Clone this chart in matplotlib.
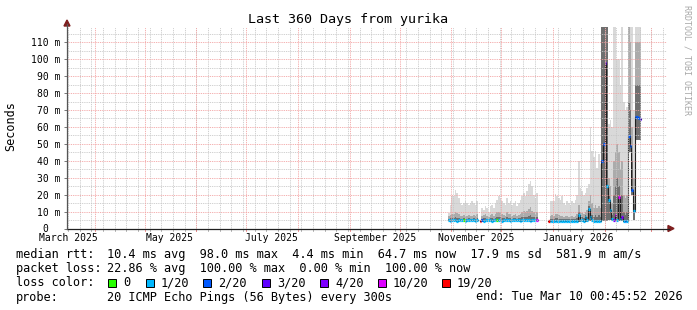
import numpy as np
import pandas as pd
import matplotlib
matplotlib.use("Agg")
import matplotlib.pyplot as plt
import matplotlib.dates as mdates
from matplotlib.patches import Polygon, Rectangle
from matplotlib.lines import Line2D
from datetime import datetime

nan = np.nan
W, H = 697, 310
plt.rcParams['font.family'] = ['DejaVu Sans Mono']

# ---- data (one value per day, starting 2025-10-30) ----
first_day = "2025-10-30"

median_ms = [
    4.8, 4.7, 4.8, 4.9, 4.8, 4.7, 4.8, 4.8, 4.9, 4.8, 4.7, 4.8, 4.8, 4.9, 4.8, 4.8, 4.7, 4.9,
    nan, 4.5,
    4.8, 4.7, 4.8, 4.8, 4.9, 4.8, 4.7, 4.8, 4.8, 4.9, 4.8, 4.8, 4.7, 4.8, 4.9, 4.8, 4.8,
    4.7, 4.8, 4.8, 4.9, 4.8, 4.8, 4.7, 4.8, 4.8, 4.9, 4.8, 4.8, 4.7, 4.8, 4.8, 4.9, 4.8,
    nan, nan, nan, nan, nan, nan, 4.4,
    4.6, 4.6, 4.7, 4.6, 4.6, 4.7, 4.6, 4.6, 4.6, 4.7, 4.6, 4.6, 4.6, 4.7, 4.6, 4.6, 4.7,
    8.0, 5.3, 4.8, 4.7, 6.7, 4.8, 11.7, 6.7, 4.8, 4.5, 4.7, 4.7, 4.6, 4.7,
    40, 50, 98, 25, 17, 11, 5.5, 5.2, 7.7, 4.8, 18.5, 5.5, 6.5, 4.5, 4.3, 4.5,
    54.6, 48.5, 23, 10.6, 66, 66, 65, 64.7,
]

loss_20 = [
    1, 1, 1, 1, 1, 1, 1, 1, 1, 0, 1, 1, 1, 1, 1, 1, 1, 1,
    nan, 19,
    2, 1, 1, 1, 1, 1, 1, 1, 1, 0, 1, 1, 1, 1, 1, 1, 1,
    1, 1, 1, 1, 1, 1, 1, 1, 1, 1, 1, 1, 1, 1, 1, 1, 10,
    nan, nan, nan, nan, nan, nan, 19,
    1, 1, 1, 1, 1, 1, 1, 1, 1, 1, 1, 1, 1, 1, 1, 1, 1,
    1, 1, 1, 1, 1, 1, 1, 1, 1, 1, 1, 1, 1, 1,
    2, 2, 3, 1, 1, 1, 1, 4, 10, 1, 10, 1, 4, 1, 2, 1,
    2, 2, 2, 1, 2, 2, 2, 3,
]

ping_min = [
    4.2, 4.2, 4.2, 4.2, 4.2, 4.2, 4.2, 4.2, 4.2, 4.2, 4.2, 4.2, 4.2, 4.2, 4.2, 4.2, 4.2, 4.2,
    nan, nan,
    4.2, 4.2, 4.2, 4.2, 4.2, 4.2, 4.2, 4.2, 4.2, 4.2, 4.2, 4.2, 4.2, 4.2, 4.2, 4.2, 4.2,
    4.2, 4.2, 4.2, 4.2, 4.2, 4.2, 4.2, 4.2, 4.2, 4.2, 4.2, 4.2, 4.2, 4.2, 4.2, 4.2, 4.2,
    nan, nan, nan, nan, nan, nan, nan,
    4.1, 4.1, 4.1, 4.1, 4.1, 4.1, 4.1, 4.1, 4.1, 4.1, 4.1, 4.1, 4.1, 4.1, 4.1, 4.1, 4.1,
    4.1, 4.1, 4.1, 4.1, 4.1, 4.1, 4.2, 4.2, 4.2, 4.2, 4.2, 4.2, 4.2, 4.2,
    4.5, 4.5, 4.5, 4.5, 5, 5, 4.5, 4.5, 4.5, 4.5, 4.5, 4.5, 4.5, 4.2, 4.2, 4.2,
    45, 45, 20, 5, 52, 52, 52, 52,
]

# top of the darkest part of the smoke (pings closest to the median)
smoke_core = [
    5.8, 6, 6.2, 6.2, 6.5, 6.3, 6.2, 5.8, 5.8, 6, 5.8, 5.8, 6, 5.8, 5.8, 6, 5.8, 6.2,
    nan, nan,
    5.8, 6, 6.2, 5.8, 5.6, 6, 6.2, 5.8, 6.2, 6.5, 6.8, 6.5, 6.2, 6, 5.8, 6.5, 6.2,
    6.2, 5.8, 6, 6.2, 5.8, 6, 6.2, 6.5, 7, 6.5, 7, 7.5, 8, 7, 6.5, 6.2, 6.5,
    nan, nan, nan, nan, nan, nan, nan,
    5.6, 5.8, 5.6, 6, 6, 5.8, 5.6, 5.6, 5.5, 5.6, 5.6, 5.5, 5.6, 5.6, 5.5, 5.6, 6,
    10, 7, 6.5, 6, 8, 7, 13, 10, 8, 6.5, 8, 7, 8, 7,
    125, 125, 125, 125, 20, 15, 8, 20, 25, 30, 25, 15, 20, 10, 8, 10,
    75, 70, 40, 15, 85, 85, 85, 85,
]

# top of the dense (middle) part of the smoke
smoke_mid = [
    7.5, 8, 8.5, 8.5, 9.5, 9, 8.5, 7.5, 7.5, 8, 7.5, 7.5, 8, 7.5, 7.5, 8, 7.5, 8.5,
    nan, nan,
    7.5, 8, 8.5, 7.5, 7, 8, 8.5, 7.5, 8.5, 9.5, 10, 9.5, 8.5, 8, 7.5, 9.5, 8.5,
    8.5, 7.5, 8, 8.5, 7.5, 8, 8.5, 9.5, 10.5, 9.5, 10.5, 11.5, 12.5, 10.5, 9.5, 8.5, 9.5,
    nan, nan, nan, nan, nan, nan, nan,
    7.5, 8, 7.5, 8.5, 8.5, 8, 7.5, 7.5, 7, 7.5, 7.5, 7, 7.5, 7.5, 7, 7.5, 8.5,
    14, 10, 9, 8.5, 10, 11, 16, 20, 15, 12, 14, 12, 13, 12,
    125, 125, 125, 125, 30, 25, 15, 40, 45, 50, 45, 35, 40, 20, 18, 20,
    125, 110, 60, 30, 110, 110, 110, 110,
]

smoke_max = [
    9, 14, 19, 19, 23, 21, 18, 15, 14, 15, 16, 15, 14, 15, 16, 15, 14, 16,
    nan, nan,
    12, 11, 13, 12, 10, 13, 14, 12, 15, 17, 19, 18, 16, 15, 14, 18, 15,
    16, 14, 15, 16, 13, 15, 17, 19, 21, 19, 22, 26, 28, 25, 20, 18, 21,
    nan, nan, nan, nan, nan, nan, nan,
    16.5, 16.5, 16.5, 20.5, 19, 18, 17, 19, 15, 14, 16, 15, 14, 16, 15, 17, 20,
    40, 24, 22, 20, 21, 24, 26, 60, 46, 42, 46, 36, 44, 38,
    125, 125, 125, 125, 62, 64, 60, 125, 125, 100, 100, 85, 125, 75, 70, 72,
    125, 125, 125, 70, 125, 125, 125, 125,
]

loss_colors = {0: '#26ff00', 1: '#00b8ff', 2: '#0059ff', 3: '#5e00ff',
               4: '#7e00ff', 10: '#dd00ff', 19: '#ff0000'}
loss_labels = ['0', '1/20', '2/20', '3/20', '4/20', '10/20', '19/20']

yticks = [0, 10, 20, 30, 40, 50, 60, 70, 80, 90, 100, 110]
ytick_labels = ['0  ', '10 m', '20 m', '30 m', '40 m', '50 m', '60 m',
                '70 m', '80 m', '90 m', '100 m', '110 m']
month_labels = ['March 2025', 'May 2025', 'July 2025', 'September 2025',
                'November 2025', 'January 2026']
month_label_dates = ['2025-03-16', '2025-05-16', '2025-07-16',
                     '2025-09-16', '2025-11-16', '2026-01-16']

t_start = datetime(2025, 3, 15, 0, 45, 52)
t_end = datetime(2026, 3, 10, 0, 45, 52)

# ---- figure ----
def fx(x):
    return x / W

def fy(y):
    return 1 - y / H

fig = plt.figure(figsize=(W / 100, H / 100), dpi=100)
fig.patch.set_facecolor('white')
x_left, x_right, y_top, y_bot = 66.5, 666.5, 27, 228.5
ax = fig.add_axes([fx(x_left), fy(y_bot), (x_right - x_left) / W, (y_bot - y_top) / H])

days = pd.date_range(first_day, periods=len(median_ms), freq='D')
edges = mdates.date2num(list(days.to_pydatetime()) + [days[-1].to_pydatetime() + pd.Timedelta(days=1)])
xs = np.repeat(edges, 2)[1:-1]

med = np.array(median_ms, dtype=float)
lo = np.array(ping_min, dtype=float)
core = np.array(smoke_core, dtype=float)
mid = np.array(smoke_mid, dtype=float)
hi = np.array(smoke_max, dtype=float)
loss = np.array(loss_20, dtype=float)

# smoke, light to dark
ax.fill_between(xs, np.repeat(lo, 2), np.repeat(hi, 2), color='#d9d9d9', lw=0, zorder=1)
ax.fill_between(xs, np.repeat(lo, 2), np.repeat(mid, 2), color='#ababab', lw=0, zorder=1.2)
ax.fill_between(xs, np.repeat(lo, 2), np.repeat(core, 2), color='#6f6f6f', lw=0, zorder=1.4)

# median line (black step) + loss coloured marks
ax.plot(xs, np.repeat(med, 2), color='#202020', lw=0.8, zorder=2)
ok = ~np.isnan(med)
cols = [loss_colors[int(v)] for v in loss[ok]]
ax.hlines(med[ok], edges[:-1][ok], edges[1:][ok], colors=cols, lw=2.3, zorder=2.5)

# grid
gray = '#c6c6c6'
red = '#f2a0a0'
dot = (0, (1, 1))
x0n, x1n = mdates.date2num(t_start), mdates.date2num(t_end)
weeks = [mdates.date2num(w.to_pydatetime()) for w in pd.date_range('2025-03-16', '2026-03-10', freq='W-SUN')]
months = [mdates.date2num(m.to_pydatetime()) for m in pd.date_range('2025-04-01', '2026-03-01', freq='MS')]
for w in weeks:
    ax.axvline(w, color=gray, lw=0.65, ls=dot, zorder=3)
for m in months:
    ax.axvline(m, color=red, lw=0.65, ls=dot, zorder=3.1)
for v in range(5, 119, 10):
    ax.axhline(v, color=gray, lw=0.65, ls=dot, zorder=3)
for v in range(10, 119, 10):
    ax.axhline(v, color=red, lw=0.65, ls=dot, zorder=3.1)

# small tick marks below the time axis
for w in weeks:
    ax.plot([w, w], [0, -0.012], color='#aaaaaa', lw=0.6,
            transform=ax.get_xaxis_transform(), clip_on=False)
for m in months:
    ax.plot([m, m], [0, -0.012], color='#f08080', lw=0.6,
            transform=ax.get_xaxis_transform(), clip_on=False)

ax.set_xlim(x0n, x1n)
ax.set_ylim(0, 119)
for s in ax.spines.values():
    s.set_visible(False)

ax.set_yticks(yticks, labels=ytick_labels)
ax.tick_params(axis='y', length=2, width=0.7, color='#777777', pad=2.5, labelsize=7)
ax.set_xticks(mdates.date2num([datetime.fromisoformat(d) for d in month_label_dates]),
              labels=month_labels)
ax.tick_params(axis='x', length=0, pad=3.5, labelsize=7)

# axes lines with arrows
axis_col = '#202020'
arrow_col = '#7f1f1f'
fig.add_artist(Line2D([fx(66.5), fx(669)], [fy(228.5), fy(228.5)], color=axis_col, lw=0.9))
fig.add_artist(Line2D([fx(67), fx(67)], [fy(228.5), fy(24)], color='#555555', lw=0.9))
fig.add_artist(Polygon([[fx(668), fy(225.5)], [fx(668), fy(231.5)], [fx(674), fy(228.5)]],
                       closed=True, color=arrow_col, transform=fig.transFigure))
fig.add_artist(Polygon([[fx(64), fy(26)], [fx(70), fy(26)], [fx(67), fy(20)]],
                       closed=True, color=arrow_col, transform=fig.transFigure))

# titles
fig.text(fx(348), fy(23.5), 'Last 360 Days from yurika', ha='center', va='baseline', fontsize=9.6)
fig.text(fx(11), fy(126), 'Seconds', rotation=90, ha='center', va='center', fontsize=8.5)
fig.text(fx(687.5), fy(5), 'RRDTOOL / TOBI OETIKER', rotation=270, ha='center', va='top',
         fontsize=6, color='#a8a8a8')

# legend
fs = 8.56
fig.text(fx(16), fy(258), 'median rtt:', fontsize=fs, va='baseline')
fig.text(fx(107), fy(258),
         '10.4 ms avg  98.0 ms max  4.4 ms min  64.7 ms now  17.9 ms sd  581.9 m am/s',
         fontsize=fs, va='baseline')
fig.text(fx(16), fy(272), 'packet loss:', fontsize=fs, va='baseline')
fig.text(fx(107), fy(272), '22.86 % avg  100.00 % max  0.00 % min  100.00 % now',
         fontsize=fs, va='baseline')
fig.text(fx(16), fy(286.5), 'loss color:', fontsize=fs, va='baseline')
box_x = [108, 146, 203, 262, 320, 378, 442]
for bx, lab, key in zip(box_x, loss_labels, [0, 1, 2, 3, 4, 10, 19]):
    fig.add_artist(Rectangle((fx(bx), fy(286.5)), 8 / W, 8 / H, facecolor=loss_colors[key],
                             edgecolor='black', lw=0.7, transform=fig.transFigure))
    fig.text(fx(bx + 15), fy(286.5), lab, fontsize=fs, va='baseline')
fig.text(fx(16), fy(300.5), 'probe:', fontsize=fs, va='baseline')
fig.text(fx(107), fy(300.5), '20 ICMP Echo Pings (56 Bytes) every 300s', fontsize=fs, va='baseline')
fig.text(fx(476), fy(300.5), 'end: Tue Mar 10 00:45:52 2026', fontsize=fs, va='baseline')

fig.savefig('out.png', dpi=100, facecolor='white')
